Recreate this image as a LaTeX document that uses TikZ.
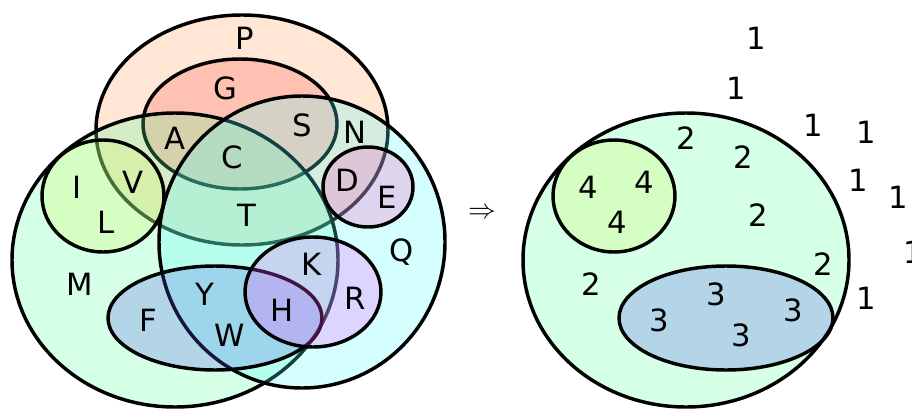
\documentclass[tikz,border=0pt]{standalone}
\usepackage{fontspec}
\setmainfont{DejaVu Sans}
\usetikzlibrary{positioning}
\definecolor{peach}{RGB}{255,155,87}
\definecolor{salmon}{RGB}{255,90,73}
\definecolor{mintset}{RGB}{87,255,155}
\definecolor{cyanset}{RGB}{87,255,255}
\definecolor{limeset}{RGB}{213,255,90}
\definecolor{blueset}{RGB}{85,87,238}
\definecolor{lilac}{RGB}{245,87,255}
\definecolor{mauve}{RGB}{245,87,187}

\tikzset{
  region/.style={draw=black, line width=2.6pt, fill opacity=0.25},
  lab/.style={font=\fontsize{23}{27}\selectfont, inner sep=0pt},
}

\begin{document}
\begin{tikzpicture}[x=0.75pt,y=-0.75pt]
  \useasboundingbox (0,0) rectangle (912,410);
  \clip (0,0) rectangle (912,410);
  % the sets
  \draw[region, fill=peach]   (242,130) ellipse [x radius=146, y radius=115];
  \draw[region, fill=salmon]  (240,124) ellipse [x radius=97,  y radius=65];
  \draw[region, fill=mintset] (175,260) ellipse [x radius=163, y radius=147];
  \draw[region, fill=cyanset] (302,242) ellipse [x radius=143, y radius=146];
  \draw[region, fill=limeset] (103,196) ellipse [x radius=61,  y radius=56];
  \draw[region, fill=mauve]   (368,187) ellipse [x radius=45,  y radius=40];
  \draw[region, fill=blueset] (215,318) ellipse [x radius=107, y radius=52];
  \draw[region, fill=lilac]   (313,292) ellipse [x radius=68,  y radius=55];
  % after merging
  \begin{scope}[shift={(511,0)}]
    \draw[region, fill=mintset] (175,260) ellipse [x radius=163, y radius=147];
    \draw[region, fill=limeset] (103,196) ellipse [x radius=61,  y radius=56];
    \draw[region, fill=blueset] (215,318) ellipse [x radius=107, y radius=52];
  \end{scope}
  \foreach \x/\y/\name/\num in {245/38/P/1, 225/88/G/1, 175/138/A/2, 302/125/S/1,
      355/132/N/1, 232/157/C/2, 77/187/I/4, 133/182/V/4, 106/222/L/4,
      347/180/D/1, 387/197/E/1, 247/215/T/2, 402/252/Q/1, 312/264/K/2,
      80/284/M/2, 355/298/R/1, 205/294/Y/3, 148/320/F/3, 282/310/H/3,
      230/335/W/3} {
    \node[lab] (l-\name) at (\x,\y) {\name};
    \node[lab] (r-\name) at (\x+511,\y) {\num};
  }
  \node[font=\fontsize{21}{24}\selectfont, inner sep=0pt] (to) at (482,213) {$\Rightarrow$};
\end{tikzpicture}
\end{document}
